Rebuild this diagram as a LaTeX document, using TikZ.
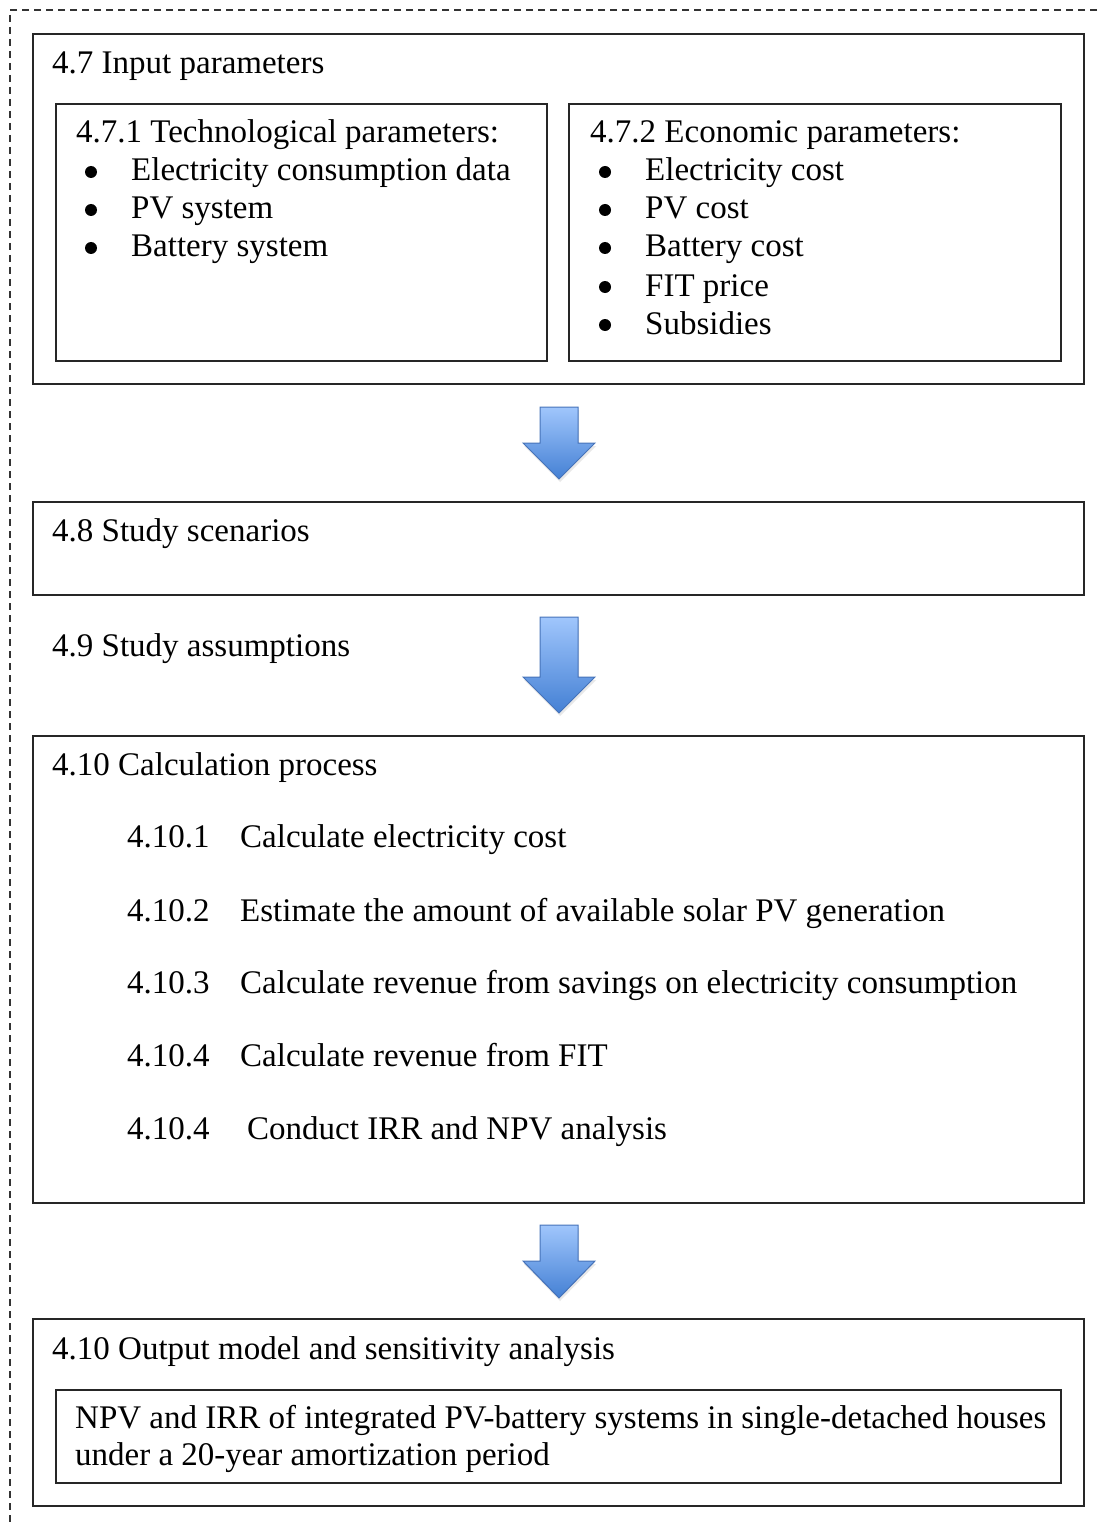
\documentclass[tikz,border=0pt]{standalone}
\usepackage{fontspec}
\setmainfont{Liberation Serif}
\usetikzlibrary{shadows}
\definecolor{arrtop}{RGB}{160,198,252}
\definecolor{arrbot}{RGB}{68,128,212}
\definecolor{arrline}{RGB}{70,115,185}
\tikzset{
  box/.style={draw=black!85, line width=1.6pt, anchor=north west, inner sep=0pt, outer sep=0pt},
  txt/.style={anchor=base west, inner sep=0pt, font=\fontsize{33}{38}\selectfont},
  bul/.style={circle, fill=black, inner sep=0pt, minimum size=12pt},
  blockarrow/.style={top color=arrtop, bottom color=arrbot, draw=arrline, line width=1pt, line join=miter,
     drop shadow={opacity=0.18, shadow xshift=1pt, shadow yshift=-3pt}},
  frame/.style={draw=black!80, line width=1.3pt, dash pattern=on 7pt off 5pt}
}
\newcommand{\dnarrow}[4]{% #1 name, #2 top y, #3 head start y, #4 tip y
  \path[blockarrow] (540,#2) -- (578,#2) -- (578,#3) -- (595,#3) -- (559,#4) -- (523,#3) -- (540,#3) -- cycle;
}
\begin{document}
\begin{tikzpicture}[x=1pt,y=-1pt]
\useasboundingbox (0,0) rectangle (1097,1522);
% outer dashed frame
\coordinate (fTR) at (1097,10);
\coordinate (fTL) at (10,10);
\coordinate (fBL) at (10,1522);
\draw[frame] (fTR) -- (fTL) -- (fBL);

% ---- 4.7 Input parameters
\node[box, minimum width=1051pt, minimum height=350pt] (b47) at (33,34) {};
\node[txt] (t47) at (52,74) {4.7 Input parameters};
\node[box, minimum width=491pt, minimum height=257pt] (tech) at (56,104) {};
\node[box, minimum width=492pt, minimum height=257pt] (econ) at (569,104) {};

\node[txt] (t471) at (76,143) {4.7.1 Technological parameters:};
\node[bul] (tb1) at (91,172) {};
\node[txt] (ti1) at (131,181) {Electricity consumption data};
\node[bul] (tb2) at (91,210) {};
\node[txt] (ti2) at (131,219) {PV system};
\node[bul] (tb3) at (91,248) {};
\node[txt] (ti3) at (131,257) {Battery system};

\node[txt] (t472) at (590,143) {4.7.2 Economic parameters:};
\node[bul] (eb1) at (605,172) {};
\node[txt] (ei1) at (645,181) {Electricity cost};
\node[bul] (eb2) at (605,210) {};
\node[txt] (ei2) at (645,219) {PV cost};
\node[bul] (eb3) at (605,248) {};
\node[txt] (ei3) at (645,257) {Battery cost};
\node[bul] (eb4) at (605,287) {};
\node[txt] (ei4) at (645,296) {FIT price};
\node[bul] (eb5) at (605,325) {};
\node[txt] (ei5) at (645,334) {Subsidies};

% ---- 4.8 Study scenarios
\node[box, minimum width=1051pt, minimum height=93pt] (b48) at (33,502) {};
\node[txt] (t48) at (52,541) {4.8 Study scenarios};

% ---- 4.9 Study assumptions
\node[txt] (t49) at (52,656) {4.9 Study assumptions};

% ---- 4.10 Calculation process
\node[box, minimum width=1051pt, minimum height=467pt] (b410) at (33,736) {};
\node[txt] (t410) at (52,775) {4.10 Calculation process};
\node[txt] (n1) at (127,847) {4.10.1};
\node[txt] (c1) at (240,847) {Calculate electricity cost};
\node[txt] (n2) at (127,921) {4.10.2};
\node[txt] (c2) at (240,921) {Estimate the amount of available solar PV generation};
\node[txt] (n3) at (127,993) {4.10.3};
\node[txt] (c3) at (240,993) {Calculate revenue from savings on electricity consumption};
\node[txt] (n4) at (127,1066) {4.10.4};
\node[txt] (c4) at (240,1066) {Calculate revenue from FIT};
\node[txt] (n5) at (127,1139) {4.10.4};
\node[txt] (c5) at (247,1139) {Conduct IRR and NPV analysis};

% ---- Output
\node[box, minimum width=1051pt, minimum height=187pt] (bout) at (33,1319) {};
\node[txt] (tout) at (52,1359) {4.10 Output model and sensitivity analysis};
\node[box, minimum width=1005pt, minimum height=93pt] (bres) at (56,1390) {};
\node[txt] (r1) at (75,1428) {NPV and IRR of integrated PV-battery systems in single-detached houses};
\node[txt] (r2) at (75,1465) {under a 20-year amortization period};

% ---- block arrows
\dnarrow{a1}{407}{443}{479}
\dnarrow{a2}{617}{677}{713}
\dnarrow{a3}{1225}{1261}{1298}
\end{tikzpicture}
\end{document}
